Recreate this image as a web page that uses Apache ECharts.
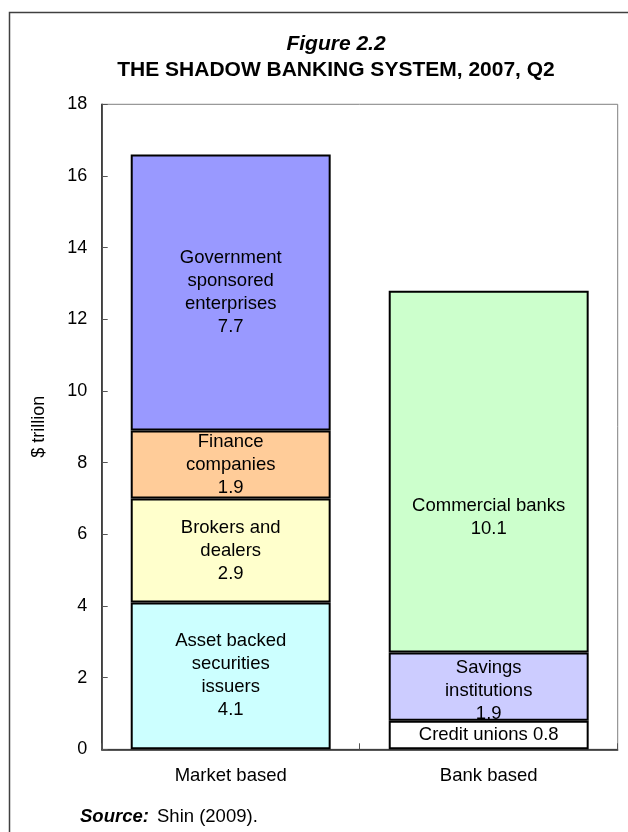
<!DOCTYPE html>
<html>
<head>
<meta charset="utf-8">
<script src="https://cdn.jsdelivr.net/npm/echarts@6/dist/echarts.min.js"></script>
<style>
html,body{margin:0;padding:0;background:#fff;}
#chart{width:628px;height:832px;}
</style>
</head>
<body>
<div id="chart"></div>
<script>
const categories = ['Market based', 'Bank based'];
const marketNames = ['Asset backed\nsecurities\nissuers', 'Brokers and\ndealers', 'Finance\ncompanies', 'Government\nsponsored\nenterprises'];
const marketValues = [4.1, 2.9, 1.9, 7.7];
const bankNames = ['Credit unions', 'Savings\ninstitutions', 'Commercial banks'];
const bankValues = [0.8, 1.9, 10.1];
const yTicks = [0, 2, 4, 6, 8, 10, 12, 14, 16, 18];

const FONT = 'Liberation Sans, Arial, sans-serif';
const marketColors = ['#CCFFFF', '#FFFFCC', '#FFCC99', '#9999FF'];
const bankColors = ['#FFFFFF', '#CCCCFF', '#CCFFCC'];
const marketOffsets = [[0, 0], [0, 0], [0, 0], [0, 0]];
const bankOffsets = [[0, 0], [0, 4], [0, 46]];
const bankSep = [' ', '\n', '\n'];

function makeSeries(name, value, catIndex, color, offset, sep) {
  const data = categories.map((c, i) => i === catIndex ? value : '-');
  return {
    name: name,
    type: 'bar',
    stack: 'total',
    barWidth: '77.5%',
    data: data,
    itemStyle: { color: color, borderColor: '#000', borderWidth: 2 },
    label: {
      show: true,
      position: 'inside',
      offset: offset,
      formatter: () => name + sep + value.toFixed(1),
      color: '#000',
      fontFamily: FONT,
      fontSize: 18.5,
      lineHeight: 23,
      align: 'center'
    },
    emphasis: { disabled: true },
    animation: false
  };
}

const series = [];
marketNames.forEach((n, i) => series.push(makeSeries(n, marketValues[i], 0, marketColors[i], marketOffsets[i], '\n')));
bankNames.forEach((n, i) => series.push(makeSeries(n, bankValues[i], 1, bankColors[i], bankOffsets[i], bankSep[i])));

const chart = echarts.init(document.getElementById('chart'), null, { renderer: 'canvas' });
chart.setOption({
  animation: false,
  backgroundColor: '#fff',
  grid: {
    left: 101.7, right: 10.3, top: 104.3, bottom: 82.7,
    show: true, borderColor: '#808080', borderWidth: 1, backgroundColor: 'transparent'
  },
  xAxis: {
    type: 'category',
    data: categories,
    axisLine: { lineStyle: { color: '#222', width: 1.5 } },
    axisTick: { show: true, inside: true, length: 6, lineStyle: { color: '#555' } },
    axisLabel: { color: '#000', fontFamily: FONT, fontSize: 18.5, margin: 17 },
    splitLine: { show: false }
  },
  yAxis: {
    type: 'value',
    min: yTicks[0], max: yTicks[yTicks.length - 1], interval: yTicks[1] - yTicks[0],
    name: '$ trillion',
    nameLocation: 'middle',
    nameGap: 54,
    nameTextStyle: { color: '#000', fontFamily: FONT, fontSize: 18 },
    axisLine: { show: true, lineStyle: { color: '#222', width: 1.5 } },
    axisTick: { show: true, inside: true, length: 6, lineStyle: { color: '#555' } },
    axisLabel: { color: '#000', fontFamily: FONT, fontSize: 18, margin: 14.5 },
    splitLine: { show: false }
  },
  graphic: [
    { type: 'rect', silent: true, z: 100,
      shape: { x: 9.5, y: 12.5, width: 700, height: 900 },
      style: { fill: 'none', stroke: '#404040', lineWidth: 1.5 } },
    { type: 'text', silent: true, z: 100,
      style: { text: 'Figure 2.2', x: 336, y: 44, textAlign: 'center', textVerticalAlign: 'middle',
        font: 'italic bold 21px ' + FONT, fill: '#000' } },
    { type: 'text', silent: true, z: 100,
      style: { text: 'THE SHADOW BANKING SYSTEM, 2007, Q2', x: 336, y: 70.5, textAlign: 'center', textVerticalAlign: 'middle',
        font: 'bold 21px ' + FONT, fill: '#000' } },
    { type: 'text', silent: true, z: 100,
      style: { text: 'Source:', x: 80, y: 817, textAlign: 'left', textVerticalAlign: 'middle',
        font: 'italic bold 18.5px ' + FONT, fill: '#000' } },
    { type: 'text', silent: true, z: 100,
      style: { text: 'Shin (2009).', x: 157, y: 817, textAlign: 'left', textVerticalAlign: 'middle',
        font: '18.5px ' + FONT, fill: '#000' } }
  ],
  series: series
});
</script>
</body>
</html>
